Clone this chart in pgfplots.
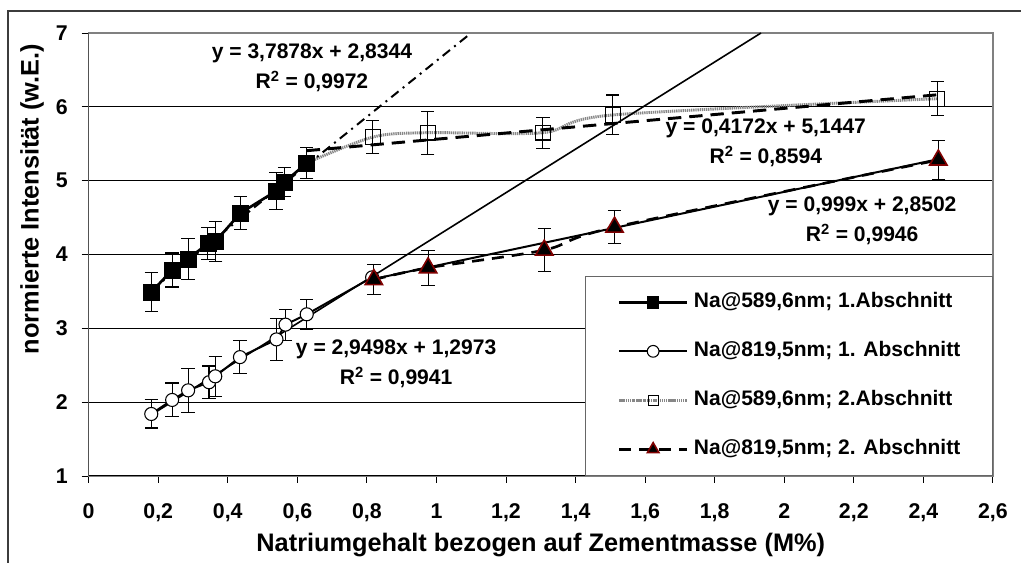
\documentclass[border=0pt]{standalone}
\usepackage{pgfplots}
\pgfplotsset{compat=1.18}
\usepackage{fontspec}
\setmainfont{Liberation Sans}

\definecolor{trired}{RGB}{128,0,0}
\definecolor{boxgray}{RGB}{128,128,128}
\definecolor{s3gray}{RGB}{135,135,135}
\definecolor{framegray}{RGB}{60,60,60}

\begin{document}
\begin{tikzpicture}
\useasboundingbox (0,0) rectangle (765.75pt,422.25pt);
\begin{axis}[
    at={(66.5pt,65.25pt)}, anchor=south west,
    scale only axis,
    width=678.2pt, height=332.25pt,
    xmin=0, xmax=2.6, ymin=1, ymax=7,
    xtick={0,0.2,0.4,0.6,0.8,1,1.2,1.4,1.6,1.8,2,2.2,2.4,2.6},
    ytick={1,2,3,4,5,6,7},
    tick align=outside,
    xtick pos=bottom, ytick pos=left,
    major tick length=5.25pt,
    tick style={black, line width=0.7pt},
    axis line style={boxgray, line width=1pt},
    ymajorgrids,
    major grid style={black, line width=0.6pt},
    tick label style={
        /pgf/number format/assume math mode=true,
        /pgf/number format/use comma,
        /pgf/number format/1000 sep={},
        font=\fontsize{16}{19}\selectfont\bfseries
    },
    xticklabel style={yshift=-12pt},
    yticklabel style={xshift=-7pt},
    label style={font=\fontsize{19}{22}\selectfont\bfseries},
    xlabel={Natriumgehalt bezogen auf Zementmasse (M\%)},
    ylabel={normierte Intensität (w.E.)},
    xlabel style={at={(axis description cs:0.5,-0.1558)}, anchor=center},
    ylabel style={at={(axis description cs:-0.0627,0.625)}, anchor=center},
    legend cell align=left,
    legend image code/.code={
        \draw[mark repeat=2,mark phase=2,#1]
            plot coordinates {(0pt,0pt) (25.5pt,0pt) (51pt,0pt)};
    },
    legend style={
        at={(rel axis cs:1,0)}, anchor=south east,
        draw=black!60, line width=1pt, fill=white,
        inner xsep=24pt, inner ysep=12pt,
        row sep=21.75pt, column sep=4pt,
        font=\fontsize{15.75}{18}\selectfont\bfseries,
        nodes={inner sep=0pt, text height=11.5pt, text depth=3.5pt},
    },
    error bars/y dir=both,
    error bars/y explicit,
    error bars/error mark options={rotate=90, mark size=5pt, line width=0.8pt, black, solid},
    error bars/error bar style={line width=0.8pt, black, solid},
]

% Na 589,6 nm, 1. Abschnitt
\addplot[black, line width=2pt, mark=square*, mark size=6pt,
    mark options={solid, fill=black, line width=0.6pt},
    legend image post style={mark size=4.2pt}]
    coordinates {
        (0.180,3.49) +- (0,0.26)
        (0.240,3.79) +- (0,0.23)
        (0.286,3.94) +- (0,0.28)
        (0.343,4.15) +- (0,0.22)
        (0.365,4.18) +- (0,0.27)
        (0.436,4.56) +- (0,0.22)
        (0.539,4.86) +- (0,0.25)
        (0.563,4.98) +- (0,0.20)
        (0.627,5.24) +- (0,0.21)
    };
\addlegendentry{Na@589,6nm; 1.Abschnitt}

% Na 819,5 nm, 1. Abschnitt
\addplot[black, line width=1.5pt, mark=*, mark size=4.9pt,
    mark options={solid, fill=white, line width=0.8pt},
    legend image post style={mark size=4.4pt}]
    coordinates {
        (0.180,1.84) +- (0,0.19)
        (0.240,2.03) +- (0,0.23)
        (0.286,2.16) +- (0,0.30)
        (0.346,2.27) +- (0,0.22)
        (0.364,2.35) +- (0,0.27)
        (0.435,2.61) +- (0,0.22)
        (0.540,2.85) +- (0,0.28)
        (0.566,3.05) +- (0,0.21)
        (0.627,3.19) +- (0,0.20)
        (0.815,3.69) +- (0,0)
    };
\addlegendentry{Na@819,5nm; 1. Abschnitt}

% Na 589,6 nm, 2. Abschnitt
\addplot[s3gray, line width=2.2pt, dash pattern=on 1pt off 0.6pt, smooth,
    mark=square, mark size=5.5pt, mark phase=2,
    mark options={solid, draw=black, fill=white, line width=0.8pt},
    legend image post style={mark size=3.8pt}]
    coordinates {
        (0.627,5.24) +- (0,0)
        (0.817,5.59) +- (0,0.22)
        (0.975,5.65) +- (0,0.29)
        (1.306,5.65) +- (0,0.21)
        (1.507,5.89) +- (0,0.27)
        (2.440,6.11) +- (0,0.23)
    };
\addlegendentry{Na@589,6nm; 2.Abschnitt}

% Na 819,5 nm, 2. Abschnitt
\addplot[black, line width=2pt, dash pattern=on 9pt off 6pt, smooth,
    mark=triangle*, mark size=7.5pt,
    mark options={solid, fill=black, draw=trired, line width=1.2pt},
    legend image post style={mark size=5pt}]
    coordinates {
        (0.820,3.66) +- (0,0.20)
        (0.976,3.82) +- (0,0.24)
        (1.310,4.06) +- (0,0.29)
        (1.512,4.37) +- (0,0.22)
        (2.443,5.28) +- (0,0.27)
    };
\addlegendentry{Na@819,5nm; 2. Abschnitt}

% linear trend lines
\addplot[forget plot, black, line width=1.5pt, no marks,
    dash pattern=on 7pt off 4pt on 1.5pt off 4pt, error bars/y dir=none]
    coordinates {(0.18,3.516) (1.0997,7.0)};
\addplot[forget plot, black, line width=1.2pt, no marks, error bars/y dir=none]
    coordinates {(0.18,1.828) (1.933,7.0)};
\addplot[forget plot, black, line width=2.2pt, no marks,
    dash pattern=on 10pt off 6pt, error bars/y dir=none]
    coordinates {(0.627,5.406) (2.44,6.163)};
\addplot[forget plot, black, line width=1.5pt, no marks, error bars/y dir=none]
    coordinates {(0.82,3.669) (2.443,5.291)};

\draw[black, line width=0.9pt] (rel axis cs:0,1) -- (rel axis cs:0,0) -- (rel axis cs:1,0);

\begin{scope}[font=\fontsize{15.8}{22.5}\selectfont\bfseries]
\node[align=center] at (axis cs:0.642,6.526) {y = 3,7878x + 2,8344\\R\textsuperscript{2} = 0,9972};
\node[align=center] at (axis cs:0.884,2.515) {y = 2,9498x + 1,2973\\R\textsuperscript{2} = 0,9941};
\node[align=center] at (axis cs:1.947,5.509) {y = 0,4172x + 5,1447\\R\textsuperscript{2} = 0,8594};
\node[align=center] at (axis cs:2.224,4.453) {y = 0,999x + 2,8502\\R\textsuperscript{2} = 0,9946};
\end{scope}
\end{axis}

% chart area frame (cut off at the right and bottom)
\draw[framegray, line width=1.2pt] (6pt,0pt) -- (6pt,414pt) -- (765.75pt,414pt);
\end{tikzpicture}
\end{document}
